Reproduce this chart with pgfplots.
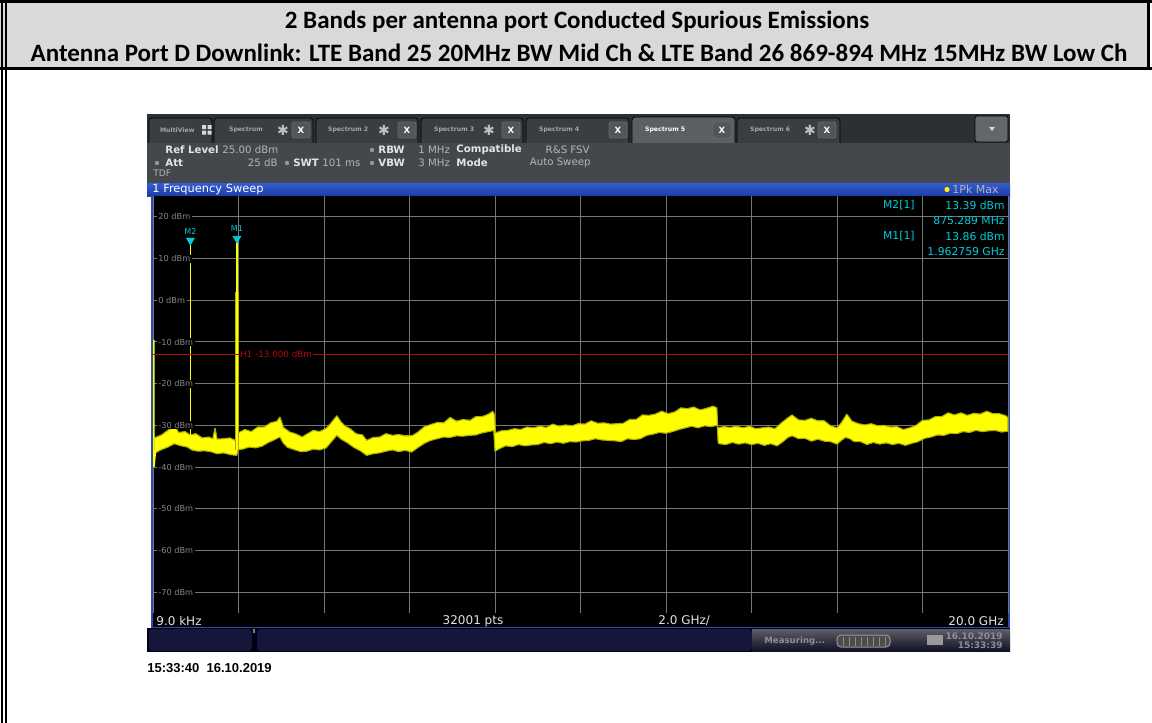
\documentclass[border=0pt]{standalone}
\usepackage{pgfplots}
\pgfplotsset{compat=1.18}
\usepackage{fontspec}
\setmainfont{Carlito}
\newfontfamily\scr{DejaVu Sans}
\newfontfamily\arl{Liberation Sans}
\definecolor{hdr}{RGB}{217,217,217}
\definecolor{tabbar}{RGB}{44,47,51}
\definecolor{tabfill}{RGB}{58,62,66}
\definecolor{tabact}{RGB}{92,96,101}
\definecolor{xbox}{RGB}{82,86,92}
\definecolor{infobg}{RGB}{68,72,77}
\definecolor{blueA}{RGB}{52,92,208}
\definecolor{blueB}{RGB}{30,60,168}
\definecolor{bord}{RGB}{45,75,180}
\definecolor{navy}{RGB}{22,22,58}
\definecolor{gridc}{RGB}{118,118,118}
\definecolor{ticklab}{RGB}{135,135,135}
\definecolor{trace}{RGB}{255,255,0}
\definecolor{traceedge}{RGB}{175,175,0}
\definecolor{hred}{RGB}{178,10,10}
\definecolor{mcyan}{RGB}{0,205,215}
\definecolor{itxt}{RGB}{228,228,228}
\definecolor{itxt2}{RGB}{178,181,185}
\definecolor{dotc}{RGB}{150,150,150}
\definecolor{tabtxt}{RGB}{165,165,170}
\definecolor{stxt}{RGB}{140,142,152}
\newcommand{\fs}[1]{\fontsize{#1}{#1}\selectfont}
\begin{document}
\begin{tikzpicture}
\useasboundingbox (0,0) rectangle (576pt,-361.5pt);
\begin{scope}[x=0.5pt,y=-0.5pt]
\fill[white] (0,0) rectangle (1152,723);
% header
\fill[hdr] (0,0) rectangle (1150,68);
\fill[black] (0,0) rectangle (1152,3);
\fill[black] (0,67) rectangle (1152,70);
\fill[black] (1147,0) rectangle (1150,70);
\fill[black] (0.5,0) rectangle (2.5,723);
\fill[black] (5,0) rectangle (7,723);
\node[font=\bfseries\fs{12.5pt}] at (577,22) {2 Bands per antenna port Conducted Spurious Emissions};
\node[font=\bfseries\fs{12.5pt}] at (579,53) {Antenna Port D Downlink: LTE Band 25 20MHz BW Mid Ch \& LTE Band 26 869-894 MHz 15MHz BW Low Ch};
% tab bar
\fill[tabbar] (147,114) rectangle (1010,143);
\foreach \a/\b in {149/212, 214/313, 316/418, 421/523, 526/629, 737/840}{
  \draw[rounded corners=1.5pt, fill=tabfill, draw=black] (\a,146) -- (\a,118) -- (\b,118) -- (\b,146);
}
\draw[rounded corners=1.5pt, fill=tabact, draw=black] (632,146) -- (632,117) -- (735,117) -- (735,146);
\draw[rounded corners=1pt, fill=xbox!90, draw=black] (975,116) rectangle (1008,142);
\fill[white!85!black] (989,127) -- (995,127) -- (992,131) -- cycle;
\node[anchor=west, font=\scr\bfseries\fs{3.1pt}, text=tabtxt] at (153,130) {MultiView};
\foreach \x/\t in {222/Spectrum, 321/Spectrum 2, 427/Spectrum 3, 532/Spectrum 4, 743/Spectrum 6}{
  \node[anchor=west, font=\scr\bfseries\fs{3.1pt}, text=tabtxt] at (\x,130) {\t};
}
\node[anchor=west, font=\scr\bfseries\fs{3.1pt}, text=white] at (638,130) {Spectrum 5};
\fill[white!85!black] (202,125) rectangle (206,129) (207.5,125) rectangle (211.5,129) (202,130.5) rectangle (206,134.5) (207.5,130.5) rectangle (211.5,134.5);
\foreach \x in {283,384,489,810}{
  \node[font=\scr\fs{7pt}, text=white!75!black] at (\x,130) {✱};
}
\foreach \a/\b in {292/310, 398/416, 502/520, 609/627, 713/731, 818/836}{
  \draw[rounded corners=1pt, fill=xbox, draw=black!60] (\a,122) rectangle (\b,138);
  \node[font=\scr\bfseries\fs{4.3pt}, text=white] at ({(\a+\b)/2},130) {X};
}
% info panel
\fill[infobg] (147,143) rectangle (1010,183);
\node[anchor=west, font=\scr\bfseries\fs{5.1pt}, text=itxt, inner sep=0] at (165,150) {Ref Level};
\node[anchor=west, font=\scr\fs{5.1pt}, text=itxt2, inner sep=0] at (222,150) {25.00 dBm};
\fill[dotc] (157,163) circle (2.2);
\node[anchor=west, font=\scr\bfseries\fs{5.1pt}, text=itxt, inner sep=0] at (165,163) {Att};
\node[anchor=east, font=\scr\fs{5.1pt}, text=itxt2, inner sep=0] at (278,163) {25 dB};
\fill[dotc] (287,163) circle (2.2);
\node[anchor=west, font=\scr\bfseries\fs{5.1pt}, text=itxt, inner sep=0] at (293,163) {SWT};
\node[anchor=west, font=\scr\fs{5.1pt}, text=itxt2, inner sep=0] at (322,163) {101 ms};
\fill[dotc] (372,150) circle (2.2);
\fill[dotc] (372,163) circle (2.2);
\node[anchor=west, font=\scr\bfseries\fs{5.1pt}, text=itxt, inner sep=0] at (378,150) {RBW};
\node[anchor=west, font=\scr\bfseries\fs{5.1pt}, text=itxt, inner sep=0] at (378,163) {VBW};
\node[anchor=west, font=\scr\fs{5.1pt}, text=itxt2, inner sep=0] at (418,150) {1 MHz};
\node[anchor=west, font=\scr\fs{5.1pt}, text=itxt2, inner sep=0] at (418,163) {3 MHz};
\node[anchor=west, font=\scr\bfseries\fs{5.1pt}, text=itxt, inner sep=0] at (456,150) {Compatible};
\node[anchor=west, font=\scr\bfseries\fs{5.1pt}, text=itxt, inner sep=0] at (456,163) {Mode};
\node[anchor=east, font=\scr\fs{5.1pt}, text=itxt2, inner sep=0] at (590,150) {R\&S FSV};
\node[anchor=east, font=\scr\fs{5.1pt}, text=itxt2, inner sep=0] at (591,163) {Auto Sweep};
\node[anchor=west, font=\scr\fs{4.5pt}, text=itxt2, inner sep=0] at (153,173) {TDF};
% blue bar
\shade[top color=blueA, bottom color=blueB] (147,183) rectangle (1010,196);
\node[anchor=west, font=\scr\fs{5.7pt}, text=white, inner sep=0] at (152,189.5) {1 Frequency Sweep};
\fill[yellow] (947,189.5) circle (2.6);
\node[anchor=west, font=\scr\fs{5.5pt}, text=itxt2, inner sep=0] at (952,189.5) {1Pk Max};
% plot area & strip
\fill[black] (151,196) rectangle (1010,628);
\draw[bord, line width=0.9pt] (152,196) -- (152,627.5) -- (1009,627.5) -- (1009,196);
\node[anchor=west, font=\scr\fs{6pt}, text=itxt, inner sep=0] at (156,621) {9.0 kHz};
\node[font=\scr\fs{6pt}, text=itxt, inner sep=0] at (473,621) {32001 pts};
\node[anchor=west, font=\scr\fs{6pt}, text=itxt, inner sep=0] at (658,621) {2.0 GHz/};
\node[anchor=east, font=\scr\fs{6pt}, text=itxt, inner sep=0] at (1004,621) {20.0 GHz};
% status bar
\fill[black!92!blue] (147,628) rectangle (1010,652);
\fill[navy, rounded corners=1.5pt] (149,629) rectangle (252,651);
\fill[gray] (253,629) rectangle (255,633);
\fill[navy, rounded corners=1.5pt] (257,629) rectangle (752,651);
\shade[top color={rgb,255:red,92;green,95;blue,105}, bottom color={rgb,255:red,16;green,16;blue,36}] (752,629) rectangle (1010,651);
\node[anchor=west, font=\scr\bfseries\fs{4.3pt}, text=stxt, inner sep=0] at (764,641) {Measuring...};
\draw[gray!80, fill=black!70, rounded corners=2pt, line width=0.5pt] (837,635) rectangle (890,647);
\foreach \x in {843,849,...,885}{\draw[gray!90, line width=0.4pt] (\x,636.5) -- (\x,645.5);}
\fill[gray!80] (927,635) rectangle (943,645);
\node[anchor=east, font=\scr\bfseries\fs{4.5pt}, text=stxt, inner sep=0] at (1003,636) {16.10.2019};
\node[anchor=east, font=\scr\bfseries\fs{4.5pt}, text=stxt, inner sep=0] at (1003,645.5) {15:33:39};
% timestamp
\node[anchor=west, font=\arl\bfseries\fs{6.5pt}, inner sep=0] at (147,668) {15:33:40\ \ 16.10.2019};
\end{scope}

\begin{axis}[
  at={(76.5pt,-306.5pt)}, anchor=south west,
  scale only axis, width=427.5pt, height=208.5pt,
  xmin=0, xmax=20, ymin=-75, ymax=25,
  xtick={0,2,...,20}, ytick={-70,-60,...,20},
  xticklabels={}, yticklabels={},
  major tick length=0pt,
  axis line style={draw=none},
  grid=major,
  major grid style={draw=gridc, line width=0.5pt},
  axis background/.style={fill=black},
]
% noise band (upper envelope forward, lower envelope back)
\addplot[fill=trace, draw=traceedge, line width=0.55pt, line join=bevel] coordinates {
(0.03,-33.0) (0.2,-32.3) (0.4,-30.8) (0.5,-30.0) (0.6,-31.7) (0.75,-31.5) (0.87,-32.3) (1.0,-32.0) (1.15,-33.0) (1.3,-32.8) (1.4,-33.2) (1.45,-30.6) (1.5,-33.3) (1.65,-33.2) (1.8,-33.0) (1.92,-33.6) (1.99,-31.8) (2.15,-31.0) (2.3,-31.5) (2.45,-30.4) (2.6,-30.4) (2.75,-29.4) (2.9,-29.0) (2.97,-28.0) (3.05,-30.5) (3.2,-31.6) (3.35,-32.1) (3.49,-32.8) (3.6,-32.1) (3.75,-31.2) (3.9,-31.5) (4.05,-30.7) (4.15,-29.6) (4.3,-27.7) (4.4,-29.2) (4.5,-30.2) (4.61,-30.8) (4.75,-32.0) (4.9,-32.3) (5.0,-33.6) (5.15,-32.9) (5.3,-32.8) (5.45,-32.0) (5.6,-32.4) (5.75,-32.2) (5.9,-32.5) (6.06,-32.5) (6.2,-31.6) (6.35,-30.3) (6.5,-29.8) (6.65,-29.3) (6.8,-29.4) (6.95,-28.1) (7.1,-29.0) (7.25,-28.6) (7.42,-28.8) (7.55,-27.9) (7.7,-27.9) (7.85,-27.3) (7.95,-26.6) (7.99,-27.5) (8.01,-31.8) (8.15,-31.3) (8.3,-31.2) (8.45,-30.8) (8.6,-31.0) (8.75,-30.4) (8.9,-30.6) (9.05,-30.2) (9.2,-30.5) (9.35,-29.7) (9.5,-30.2) (9.65,-29.9) (9.8,-30.1) (9.95,-29.6) (10.1,-29.7) (10.25,-28.9) (10.4,-29.5) (10.55,-29.4) (10.7,-29.7) (10.85,-29.6) (11.0,-29.5) (11.15,-28.6) (11.3,-28.6) (11.45,-27.5) (11.6,-27.6) (11.75,-27.3) (11.9,-26.6) (12.05,-27.2) (12.2,-26.8) (12.35,-25.8) (12.5,-26.0) (12.65,-25.6) (12.8,-26.3) (12.95,-25.9) (13.1,-25.4) (13.19,-25.8) (13.21,-30.6) (13.35,-30.3) (13.5,-30.5) (13.65,-30.2) (13.8,-30.6) (13.95,-30.2) (14.1,-30.8) (14.25,-30.6) (14.4,-30.4) (14.55,-30.8) (14.7,-29.4) (14.85,-28.2) (14.95,-27.5) (15.1,-28.7) (15.25,-28.8) (15.4,-28.3) (15.55,-28.9) (15.7,-28.9) (15.85,-30.1) (16.0,-30.6) (16.1,-29.4) (16.23,-27.3) (16.35,-29.0) (16.5,-29.6) (16.65,-29.9) (16.8,-29.6) (16.95,-30.1) (17.1,-30.0) (17.25,-30.4) (17.4,-30.3) (17.55,-31.0) (17.7,-30.6) (17.85,-30.0) (18.0,-28.8) (18.15,-28.7) (18.3,-27.9) (18.45,-27.9) (18.6,-27.0) (18.75,-27.5) (18.9,-27.0) (19.05,-27.6) (19.2,-27.1) (19.35,-27.3) (19.5,-26.6) (19.65,-27.2) (19.8,-27.2) (19.95,-27.7) (20.0,-28.2)
(20.0,-31.4) (19.85,-31.6) (19.7,-31.2) (19.55,-31.3) (19.4,-31.5) (19.25,-31.2) (19.1,-31.7) (18.95,-31.5) (18.8,-32.0) (18.65,-31.9) (18.5,-32.4) (18.35,-32.3) (18.2,-32.8) (18.05,-33.1) (17.9,-33.9) (17.75,-34.3) (17.6,-34.8) (17.45,-34.3) (17.3,-34.6) (17.15,-34.2) (17.0,-34.5) (16.85,-34.1) (16.7,-34.6) (16.55,-33.9) (16.4,-33.9) (16.3,-33.2) (16.2,-32.9) (16.1,-33.6) (16.0,-34.5) (15.85,-33.9) (15.7,-33.8) (15.55,-33.3) (15.4,-33.8) (15.25,-33.1) (15.1,-33.2) (14.95,-32.5) (14.85,-32.9) (14.75,-33.8) (14.6,-34.9) (14.45,-34.4) (14.3,-34.8) (14.15,-34.3) (14.0,-34.6) (13.85,-34.2) (13.7,-34.5) (13.55,-34.1) (13.4,-34.6) (13.25,-34.4) (13.22,-34.2) (13.2,-30.0) (13.05,-30.3) (12.9,-30.1) (12.75,-30.6) (12.6,-30.2) (12.45,-30.6) (12.3,-31.0) (12.15,-31.5) (12.0,-31.9) (11.85,-31.7) (11.7,-32.1) (11.55,-32.4) (11.4,-33.2) (11.25,-33.4) (11.1,-33.2) (10.95,-33.9) (10.8,-33.7) (10.65,-33.6) (10.5,-33.5) (10.35,-33.2) (10.2,-33.6) (10.05,-33.7) (9.9,-34.0) (9.75,-33.9) (9.6,-34.3) (9.45,-34.0) (9.3,-34.4) (9.15,-34.1) (9.0,-34.6) (8.85,-34.7) (8.7,-34.9) (8.55,-34.6) (8.4,-35.1) (8.25,-34.9) (8.1,-35.6) (8.0,-36.2) (7.97,-31.2) (7.85,-31.5) (7.7,-31.8) (7.55,-32.3) (7.4,-32.4) (7.25,-32.6) (7.1,-32.5) (6.95,-32.9) (6.8,-32.8) (6.65,-33.2) (6.5,-33.6) (6.35,-34.3) (6.2,-35.3) (6.05,-36.4) (5.9,-36.0) (5.75,-36.3) (5.6,-35.9) (5.45,-36.2) (5.3,-36.6) (5.15,-36.8) (5.0,-37.2) (4.85,-36.1) (4.7,-35.3) (4.55,-34.2) (4.4,-33.3) (4.3,-32.4) (4.2,-33.6) (4.05,-35.4) (3.9,-35.9) (3.75,-35.7) (3.6,-36.2) (3.45,-36.3) (3.3,-35.8) (3.15,-35.3) (3.05,-34.3) (2.97,-32.8) (2.85,-33.4) (2.7,-34.1) (2.55,-35.0) (2.4,-35.4) (2.25,-35.2) (2.1,-35.7) (1.99,-35.8) (1.96,-37.2) (1.8,-37.0) (1.65,-36.6) (1.5,-36.8) (1.35,-36.3) (1.2,-36.1) (1.05,-36.2) (0.91,-35.9) (0.8,-35.2) (0.65,-34.9) (0.5,-34.4) (0.35,-35.2) (0.2,-35.8) (0.05,-36.6) (0.03,-38.5)
};
% start of sweep and the two carriers
\addplot[trace, line width=0.8pt] coordinates {(0.02,-9.5) (0.02,-40.0) (0.06,-36.0)};
\addplot[trace, line width=0.9pt] coordinates {(0.875,-35.0) (0.875,13.39)};
\addplot[traceedge, line width=1.6pt] coordinates {(1.963,-36.0) (1.963,2.0)};
\addplot[trace, line width=0.7pt] coordinates {(1.963,-36.0) (1.963,13.86)};
% display line H1
\addplot[hred, line width=0.5pt] coordinates {(0,-13) (20,-13)};
% markers
\addplot[only marks, mark=triangle*, mark size=2.2pt, mark options={fill=mcyan, draw=mcyan, yshift=2pt, rotate=180}] coordinates {(0.875,13.39) (1.963,13.86)};
\node[text=mcyan, font=\scr\fs{4pt}, yshift=6.3pt, inner sep=0] at (axis cs:0.875,13.39) {M2};
\node[text=mcyan, font=\scr\fs{4pt}, yshift=6.8pt, inner sep=0] at (axis cs:1.963,13.86) {M1};
\node[anchor=west, fill=black, text=hred, font=\scr\fs{4.4pt}, inner xsep=0.6pt, inner ysep=0.5pt] at (axis cs:2.0,-13) {H1 -13.000 dBm};
\pgfplotsinvokeforeach{20,10,0,-10,-20,-30,-40,-50,-60,-70}{
  \node[anchor=west, fill=black, text=ticklab, font=\scr\fs{4.1pt}, inner xsep=0.8pt, inner ysep=0.4pt] at (axis cs:0.08,#1) {#1 dBm};
}
\end{axis}

\begin{scope}[x=0.5pt,y=-0.5pt]
\node[anchor=east, font=\scr\fs{5.4pt}, text=mcyan, inner sep=0] at (915,205) {M2[1]};
\node[anchor=east, font=\scr\fs{5.4pt}, text=mcyan, inner sep=0] at (1005,205) {13.39 dBm};
\node[anchor=east, font=\scr\fs{5.4pt}, text=mcyan, inner sep=0] at (1005,220.5) {875.289 MHz};
\node[anchor=east, font=\scr\fs{5.4pt}, text=mcyan, inner sep=0] at (915,236) {M1[1]};
\node[anchor=east, font=\scr\fs{5.4pt}, text=mcyan, inner sep=0] at (1005,236) {13.86 dBm};
\node[anchor=east, font=\scr\fs{5.4pt}, text=mcyan, inner sep=0] at (1005,251.5) {1.962759 GHz};
\end{scope}
\end{tikzpicture}
\end{document}
